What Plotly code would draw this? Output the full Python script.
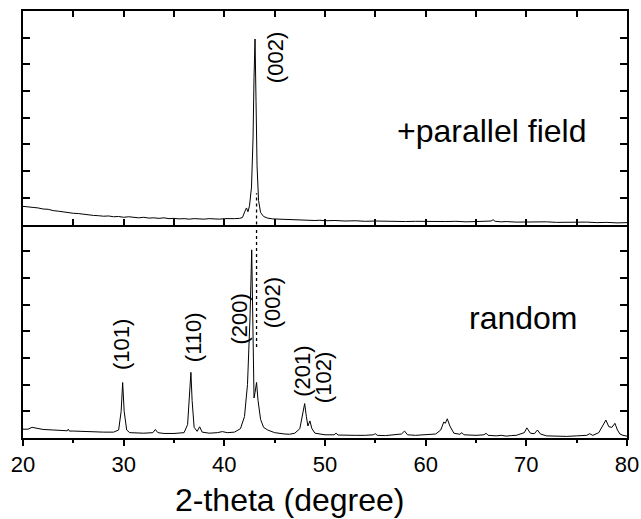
import plotly.graph_objects as go

# ---------------- data (arbitrary intensity units 0-8 per panel) -------------
top_x = [20, 20.5, 21, 21.5, 22, 22.5, 23, 23.5, 24, 24.5, 25, 25.5, 26, 26.5, 27, 27.5, 28, 28.5,
         29, 29.5, 30, 30.5, 31, 31.5, 32, 32.5, 33, 33.5, 34, 34.5, 35, 35.5, 36, 36.5, 37, 37.5,
         38, 38.5, 39, 39.5, 40, 40.5, 41, 41.5, 41.8, 42.05, 42.2, 42.35, 42.5, 42.7, 42.85, 42.95,
         43.05, 43.15, 43.25, 43.4, 43.6, 43.9, 44.3, 44.8, 45.5, 46, 46.5, 47, 47.5, 48, 48.5, 49,
         49.5, 50, 51, 52, 53, 54, 55, 56, 57, 58, 59, 60, 61, 62, 63, 64, 65, 66, 66.5, 66.7, 66.9,
         67.5, 68, 69, 70, 71, 72, 73, 74, 75, 76, 77, 78, 79, 80]
top_y = [0.68, 0.67, 0.64, 0.62, 0.58, 0.57, 0.52, 0.50, 0.47, 0.46, 0.42, 0.41, 0.38, 0.37, 0.34,
         0.33, 0.31, 0.32, 0.29, 0.30, 0.27, 0.29, 0.26, 0.25, 0.27, 0.24, 0.25, 0.23, 0.25, 0.22,
         0.23, 0.21, 0.22, 0.20, 0.22, 0.21, 0.20, 0.22, 0.21, 0.20, 0.22, 0.21, 0.22, 0.23, 0.26,
         0.50, 0.62, 0.48, 0.70, 1.4, 3.2, 5.5, 6.95, 4.6, 2.2, 0.9, 0.45, 0.30, 0.24, 0.21, 0.20,
         0.18, 0.19, 0.17, 0.18, 0.16, 0.17, 0.15, 0.16, 0.14, 0.15, 0.13, 0.14, 0.12, 0.13, 0.12,
         0.13, 0.11, 0.12, 0.11, 0.12, 0.11, 0.12, 0.10, 0.11, 0.11, 0.13, 0.18, 0.12, 0.10, 0.11,
         0.09, 0.10, 0.09, 0.10, 0.08, 0.09, 0.08, 0.09, 0.07, 0.08, 0.06, 0.07]

bot_x = [20, 20.5, 20.9, 21.2, 21.5, 22, 23, 24, 24.4, 24.5, 24.6, 25, 26, 27, 28, 29, 29.5, 29.75,
         29.9, 30.05, 30.3, 30.6, 31, 32, 32.9, 33.15, 33.4, 34, 35, 36, 36.35, 36.55, 36.68, 36.8,
         37.0, 37.3, 37.55, 37.8, 38.5, 39.3, 39.8, 40.3, 41, 41.6, 42.0, 42.3, 42.55, 42.72, 42.85,
         42.95, 43.05, 43.2, 43.35, 43.6, 43.9, 44.3, 45, 45.5, 46, 46.5, 47, 47.5, 47.8, 47.98,
         48.15, 48.3, 48.5, 48.7, 49, 50, 50.9, 51.1, 51.3, 52, 53, 54, 54.8, 55, 55.2, 56, 57, 57.6,
         57.9, 58.2, 59, 60, 61, 61.5, 61.8, 61.95, 62.15, 62.4, 62.8, 63.4, 63.6, 63.8, 65, 65.8, 66,
         66.2, 67, 67.5, 68, 68.5, 69, 69.8, 70.05, 70.4, 70.8, 71.1, 71.4, 72, 73, 74, 75, 76, 76.3,
         76.6, 77.2, 77.6, 77.9, 78.2, 78.5, 78.8, 79.05, 79.3, 79.6, 80]
bot_y = [0.33, 0.33, 0.40, 0.38, 0.34, 0.32, 0.30, 0.28, 0.27, 0.33, 0.26, 0.26, 0.24, 0.23, 0.22,
         0.22, 0.30, 1.0, 2.08, 1.0, 0.30, 0.20, 0.19, 0.18, 0.20, 0.32, 0.20, 0.17, 0.17, 0.20, 0.50,
         1.5, 2.46, 1.4, 0.40, 0.25, 0.42, 0.22, 0.18, 0.20, 0.24, 0.20, 0.22, 0.35, 0.80, 2.0, 4.5,
         7.05, 4.0, 1.5, 1.7, 2.08, 1.4, 0.70, 0.40, 0.30, 0.20, 0.17, 0.15, 0.14, 0.18, 0.35, 0.90,
         1.29, 0.80, 0.45, 0.64, 0.35, 0.18, 0.12, 0.12, 0.18, 0.11, 0.10, 0.10, 0.10, 0.12, 0.16,
         0.10, 0.09, 0.12, 0.15, 0.26, 0.12, 0.10, 0.12, 0.15, 0.30, 0.60, 0.55, 0.72, 0.45, 0.18,
         0.14, 0.20, 0.12, 0.10, 0.12, 0.18, 0.10, 0.08, 0.10, 0.07, 0.09, 0.10, 0.20, 0.38, 0.18,
         0.16, 0.30, 0.15, 0.08, 0.07, 0.06, 0.08, 0.10, 0.16, 0.10, 0.20, 0.50, 0.67, 0.42, 0.40,
         0.55, 0.30, 0.15, 0.10, 0.07]

# peak labels: (text, x position, y position) per panel
top_labels = ["(002)"]
top_label_x = [45.15]
top_label_y = [6.24]
bot_labels = ["(101)", "(110)", "(200)", "(002)", "(201)", "(102)"]
bot_label_x = [29.73, 36.94, 41.51, 44.8, 47.7, 49.92]
bot_label_y = [3.52, 3.76, 4.46, 5.07, 2.51, 2.25]

panel_names = ["+parallel field", "random"]
panel_name_x = [66.55, 69.7]
panel_name_y = [3.5, 4.5]

ref_peak_x = 43.2      # dotted guide line through the (002) position
ref_top_y = 1.17       # top end (top panel units)
ref_bot_y = 3.41       # bottom end (bottom panel units)

x_ticks = [20, 30, 40, 50, 60, 70, 80]
x_title = "2-theta (degree)"

FONT = "Liberation Sans, Arial, Helvetica, sans-serif"

fig = go.Figure()
fig.add_trace(go.Scatter(x=bot_x, y=bot_y, mode="lines", line=dict(color="black", width=1),
                         xaxis="x", yaxis="y", showlegend=False, hoverinfo="skip"))
fig.add_trace(go.Scatter(x=top_x, y=top_y, mode="lines", line=dict(color="black", width=1),
                         xaxis="x2", yaxis="y2", showlegend=False, hoverinfo="skip"))
# dotted guide: two pieces, one in each panel
fig.add_trace(go.Scatter(x=[ref_peak_x, ref_peak_x], y=[0, ref_top_y], mode="lines",
                         line=dict(color="black", width=1.3, dash="dot"),
                         xaxis="x2", yaxis="y2", showlegend=False, hoverinfo="skip"))
fig.add_trace(go.Scatter(x=[ref_peak_x, ref_peak_x], y=[ref_bot_y, 8], mode="lines",
                         line=dict(color="black", width=1.3, dash="dot"),
                         xaxis="x", yaxis="y", showlegend=False, hoverinfo="skip"))

annotations = []
for t, x, y in zip(top_labels, top_label_x, top_label_y):
    annotations.append(dict(text=t, x=x, y=y, xref="x2", yref="y2", showarrow=False,
                            textangle=-90, font=dict(family=FONT, size=22, color="black"),
                            xanchor="center", yanchor="middle"))
for t, x, y in zip(bot_labels, bot_label_x, bot_label_y):
    annotations.append(dict(text=t, x=x, y=y, xref="x", yref="y", showarrow=False,
                            textangle=-90, font=dict(family=FONT, size=22, color="black"),
                            xanchor="center", yanchor="middle"))
for t, x, y, (xr, yr) in zip(panel_names, panel_name_x, panel_name_y, [("x2", "y2"), ("x", "y")]):
    annotations.append(dict(text=t, x=x, y=y, xref=xr, yref=yr, showarrow=False,
                            font=dict(family=FONT, size=32, color="black"),
                            xanchor="center", yanchor="middle"))
annotations.append(dict(text=x_title, x=0.442, y=0, xref="paper", yref="paper", yshift=-62,
                        showarrow=False, font=dict(family=FONT, size=32, color="black"),
                        xanchor="center", yanchor="middle"))

yax_common = dict(range=[0, 8], dtick=1, tick0=0, ticks="inside", ticklen=7, tickwidth=1.5,
                  tickcolor="black", showticklabels=False, showline=True, linewidth=2,
                  linecolor="black", mirror="ticks", showgrid=False, zeroline=False, fixedrange=True)

fig.update_layout(
    width=641, height=519,
    margin=dict(l=23, r=14, t=11, b=81),
    paper_bgcolor="white", plot_bgcolor="white",
    font=dict(family=FONT, color="black"),
    xaxis=dict(domain=[0, 1], anchor="y", range=[20, 80], tickvals=x_ticks,
               ticks="outside", ticklen=6, tickwidth=1.5, tickcolor="black",
               minor=dict(dtick=5, tick0=20, ticks="outside", ticklen=3, tickwidth=1.5, tickcolor="black"),
               showline=True, linewidth=2, linecolor="black", mirror=False,
               tickfont=dict(family=FONT, size=22, color="black"), ticklabeloverflow="allow",
               showgrid=False, zeroline=False, automargin=False),
    yaxis=dict(domain=[0, 0.5], anchor="x", automargin=False, **yax_common),
    xaxis2=dict(domain=[0, 1], anchor="y2", range=[20, 80], matches="x", dtick=5, tick0=20,
                ticks="inside", ticklen=6, tickwidth=1.5, tickcolor="black", showticklabels=False,
                showline=True, linewidth=2, linecolor="black", mirror="ticks",
                showgrid=False, zeroline=False, automargin=False),
    yaxis2=dict(domain=[0.5, 1], anchor="x2", automargin=False, **yax_common),
    annotations=annotations,
)

fig.write_html("out.html", config={"displayModeBar": False},
               post_script="document.body.style.margin='0px';document.body.style.padding='0px';")
